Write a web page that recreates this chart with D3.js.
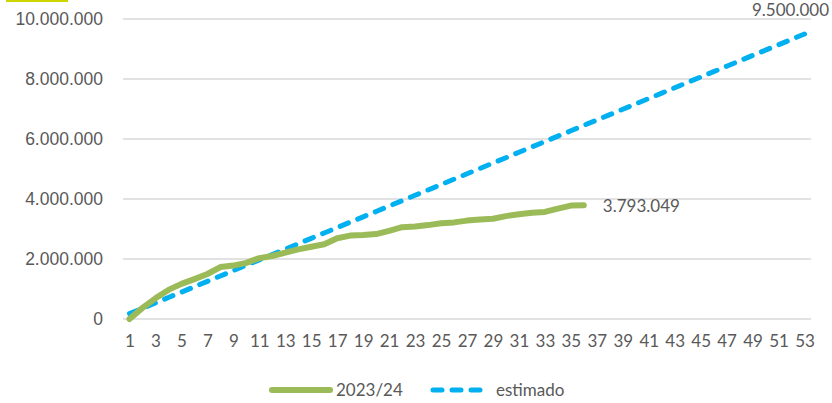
<!DOCTYPE html>
<html>
<head>
<meta charset="utf-8">
<script src="https://cdn.jsdelivr.net/npm/d3@7"></script>
<style>
  body { margin: 0; background: #fff; }
  svg { display: block; }
</style>
</head>
<body>
<svg id="chart" width="832" height="403"></svg>
<script>
const width = 832;
const height = 403;
const margin = { top: 19, right: 21, bottom: 84, left: 123 };

// weeks 1..53
const weeks = Array.from({ length: 53 }, (_, i) => i + 1);

// actual season 2023/24 (weeks 1..36)
const actual = [0, 370000, 690000, 970000, 1170000, 1330000, 1500000, 1730000, 1780000, 1870000,
    2030000, 2100000, 2210000, 2320000, 2410000, 2490000, 2690000, 2780000, 2800000, 2830000,
    2940000, 3060000, 3080000, 3130000, 3190000, 3220000, 3280000, 3320000, 3340000, 3430000,
    3490000, 3540000, 3570000, 3680000, 3780000, 3793049];

// estimated
const estimated = [179000, 358000, 538000, 717000, 896000, 1075000, 1255000, 1434000, 1613000, 1792000,
    1972000, 2151000, 2330000, 2509000, 2689000, 2868000, 3047000, 3226000, 3406000, 3585000,
    3764000, 3943000, 4123000, 4302000, 4481000, 4660000, 4840000, 5019000, 5198000, 5377000,
    5557000, 5736000, 5915000, 6094000, 6274000, 6453000, 6632000, 6811000, 6991000, 7170000,
    7349000, 7528000, 7708000, 7887000, 8066000, 8245000, 8425000, 8604000, 8783000, 8962000,
    9142000, 9321000, 9500000];

const yTicks = [0, 2000000, 4000000, 6000000, 8000000, 10000000];
const seriesNames = ["2023/24", "estimado"];

const green = "#9BBB59";
const blue = "#00B0F0";
const textColor = "#595959";

const svg = d3.select("#chart");

// small highlight mark top-left
svg.append("rect")
    .attr("x", 6).attr("y", 0)
    .attr("width", 62).attr("height", 2)
    .attr("fill", "#cdd600");

const x = d3.scalePoint()
    .domain(weeks)
    .range([margin.left, width - margin.right])
    .padding(0.5);

const y = d3.scaleLinear()
    .domain([0, 10000000])
    .range([height - margin.bottom, margin.top]);

const fmt = d => d3.format(",")(d).replace(/,/g, ".");

// gridlines
svg.append("g")
    .attr("class", "grid")
    .selectAll("line")
    .data(yTicks)
    .enter()
    .append("line")
    .attr("x1", margin.left)
    .attr("x2", width - margin.right)
    .attr("y1", d => y(d))
    .attr("y2", d => y(d))
    .attr("stroke", "#d9d9d9")
    .attr("stroke-width", 1.5);

// y axis labels
const yAxis = d3.axisLeft(y).tickValues(yTicks).tickFormat(fmt).tickSize(0).tickPadding(20);
svg.append("g")
    .attr("class", "axis y")
    .attr("transform", `translate(${margin.left}, 0)`)
    .call(yAxis)
    .call(g => g.select(".domain").remove())
    .call(g => g.selectAll("text")
        .attr("fill", textColor)
        .attr("font-family", "Liberation Sans, Arial, sans-serif")
        .attr("font-size", "17.5px"));

// x axis labels (every odd week)
const xAxis = d3.axisBottom(x).tickValues(weeks.filter(w => w % 2 == 1)).tickSize(0).tickPadding(16);
svg.append("g")
    .attr("class", "axis x")
    .attr("transform", `translate(0, ${height - margin.bottom})`)
    .call(xAxis)
    .call(g => g.select(".domain").remove())
    .call(g => g.selectAll("text")
        .attr("fill", textColor)
        .attr("font-family", "Lato, sans-serif")
        .attr("font-size", "17px"));

const line = d3.line()
    .x((d, i) => x(weeks[i]))
    .y(d => y(d));

// estimated (dashed)
svg.append("path")
    .datum(estimated)
    .attr("d", line)
    .attr("fill", "none")
    .attr("stroke", blue)
    .attr("stroke-width", 5)
    .attr("stroke-linecap", "round")
    .attr("stroke-dasharray", "9,10");

// actual
svg.append("path")
    .datum(actual)
    .attr("d", line)
    .attr("fill", "none")
    .attr("stroke", green)
    .attr("stroke-width", 6)
    .attr("stroke-linecap", "round")
    .attr("stroke-linejoin", "round");

// data labels
const labelFont = "Lato, sans-serif";
svg.append("text")
    .attr("x", x(weeks[actual.length - 1]) + 19)
    .attr("y", y(actual[actual.length - 1]) + 7)
    .attr("fill", textColor)
    .attr("font-family", labelFont)
    .attr("font-size", "17px")
    .text(fmt(actual[actual.length - 1]));

svg.append("text")
    .attr("x", width - 3)
    .attr("y", 16)
    .attr("text-anchor", "end")
    .attr("fill", textColor)
    .attr("font-family", labelFont)
    .attr("font-size", "17px")
    .text(fmt(estimated[estimated.length - 1]));

// legend
const legend = svg.append("g").attr("class", "legend");
legend.append("line")
    .attr("x1", 272).attr("x2", 330)
    .attr("y1", 390).attr("y2", 390)
    .attr("stroke", green)
    .attr("stroke-width", 6)
    .attr("stroke-linecap", "round");
legend.append("text")
    .attr("x", 336).attr("y", 396)
    .attr("fill", textColor)
    .attr("font-family", labelFont)
    .attr("font-size", "17px")
    .text(seriesNames[0]);
legend.append("line")
    .attr("x1", 433).attr("x2", 484)
    .attr("y1", 390).attr("y2", 390)
    .attr("stroke", blue)
    .attr("stroke-width", 5)
    .attr("stroke-linecap", "round")
    .attr("stroke-dasharray", "9,10");
legend.append("text")
    .attr("x", 496).attr("y", 396)
    .attr("fill", textColor)
    .attr("font-family", labelFont)
    .attr("font-size", "17px")
    .text(seriesNames[1]);
</script>
</body>
</html>
